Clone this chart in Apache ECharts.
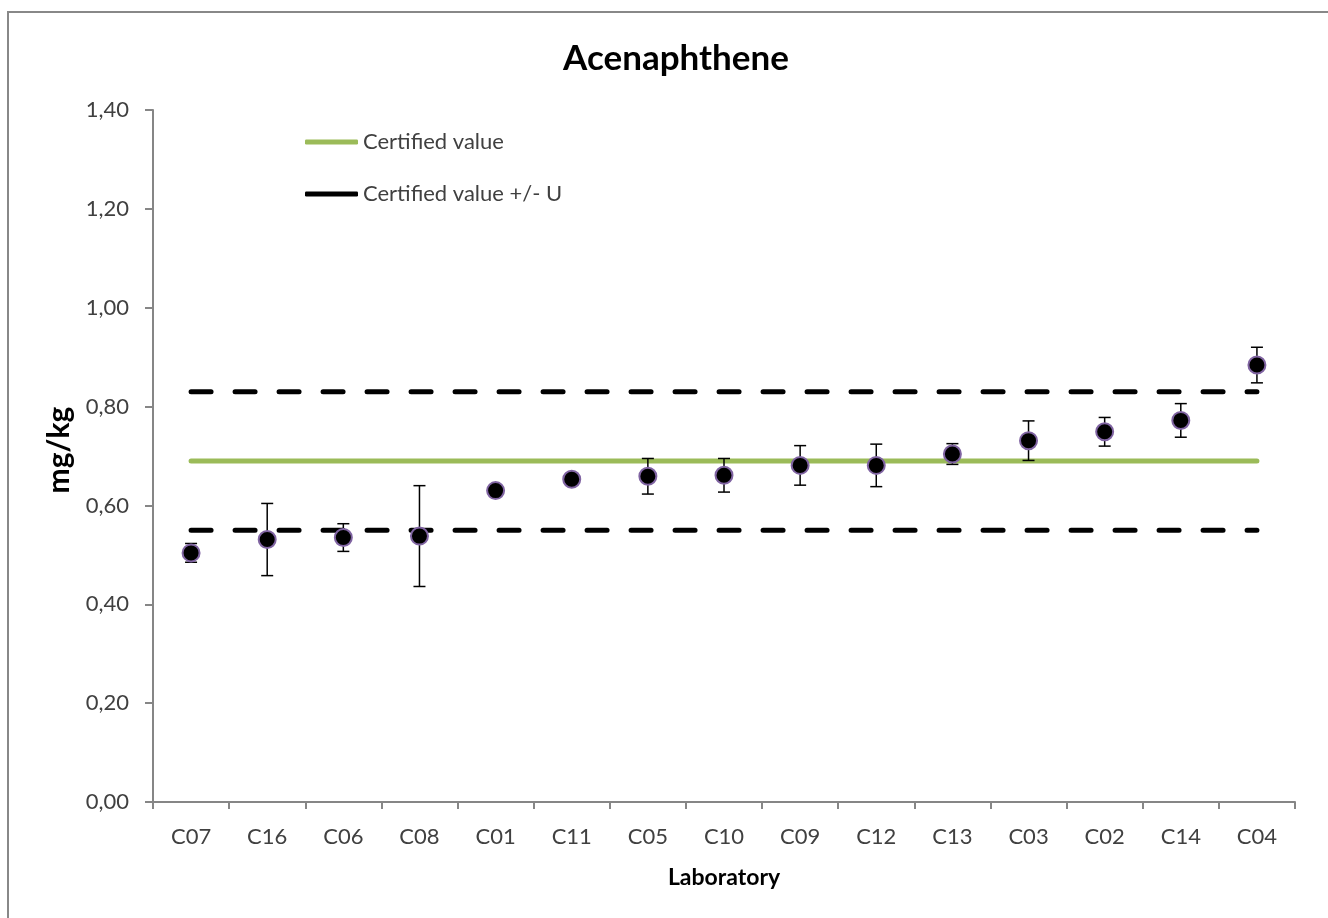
<!DOCTYPE html>
<html>
<head>
<meta charset="utf-8">
<script src="https://cdn.jsdelivr.net/npm/echarts@6/dist/echarts.min.js"></script>
<style>
html,body{margin:0;padding:0;background:#fff;}
#chart{width:1328px;height:918px;}
</style>
</head>
<body>
<div id="chart"></div>
<script>
const TITLE = 'Acenaphthene';
const categories = ['C07','C16','C06','C08','C01','C11','C05','C10','C09','C12','C13','C03','C02','C14','C04'];
const labValues = [0.504, 0.531, 0.535, 0.538, 0.630, 0.653, 0.659, 0.661, 0.681, 0.681, 0.704, 0.731, 0.749, 0.772, 0.884];
const labErrors = [0.019, 0.073, 0.028, 0.102, 0, 0, 0.036, 0.034, 0.040, 0.043, 0.021, 0.040, 0.029, 0.034, 0.036];
const certifiedValue = 0.69;
const certifiedLow = 0.55;
const certifiedHigh = 0.83;

const FONT = 'Lato, "Open Sans", sans-serif';
const TXT = '#404040';
const AX = '#868686';

const chart = echarts.init(document.getElementById('chart'));

const errData = categories.map((c, i) => [i, labValues[i] - labErrors[i], labValues[i] + labErrors[i], labErrors[i]]);
const first = categories[0], last = categories[categories.length - 1];

const option = {
  backgroundColor: '#fff',
  animation: false,
  textStyle: { fontFamily: FONT },
  title: {
    text: TITLE, left: 671, top: 36, textAlign: 'center',
    textStyle: { fontFamily: FONT, fontSize: 35, fontWeight: 'bold', color: '#000' }
  },
  graphic: [{
    type: 'rect', shape: { x: 8, y: 12, width: 1340, height: 930 },
    style: { fill: 'none', stroke: '#888', lineWidth: 2 }, silent: true, z: -10
  }],
  legend: {
    orient: 'vertical', left: 300, top: 126, itemWidth: 53, itemGap: 30, itemHeight: 5,
    icon: 'roundRect',
    textStyle: { fontFamily: FONT, fontSize: 22, color: TXT },
    data: ['Certified value', 'Certified value +/- U']
  },
  grid: { left: 153, right: 33, top: 110, bottom: 116 },
  xAxis: {
    type: 'category', data: categories, boundaryGap: true,
    name: 'Laboratory', nameLocation: 'middle', nameGap: 64,
    nameTextStyle: { fontFamily: FONT, fontSize: 23, fontWeight: 'bold', color: '#000' },
    axisLine: { lineStyle: { color: AX, width: 2 } },
    axisTick: { show: true, length: 7, interval: 0, lineStyle: { color: AX, width: 2 } },
    axisLabel: { interval: 0, margin: 24, fontFamily: FONT, fontSize: 22, color: TXT },
    splitLine: { show: false }
  },
  yAxis: {
    type: 'value', min: 0, max: 1.4, interval: 0.2,
    name: 'mg/kg', nameLocation: 'middle', nameGap: 78, nameRotate: 90,
    nameTextStyle: { fontFamily: FONT, fontSize: 30, fontWeight: 'bold', color: '#000', padding: [0, 0, 0, 12] },
    axisLine: { show: true, lineStyle: { color: AX, width: 2 } },
    axisTick: { show: true, length: 8, lineStyle: { color: AX, width: 2 } },
    axisLabel: { margin: 24, fontFamily: FONT, fontSize: 22, color: TXT,
      formatter: v => v.toFixed(2).replace('.', ',') },
    splitLine: { show: false }
  },
  series: [
    {
      name: 'Certified value', type: 'line', symbol: 'none', z: 2,
      itemStyle: { color: '#9BBB59' },
      lineStyle: { color: '#9BBB59', width: 5, cap: 'round' },
      data: [[first, certifiedValue], [last, certifiedValue]]
    },
    {
      name: 'Certified value +/- U', type: 'line', symbol: 'none', z: 2,
      itemStyle: { color: '#000' },
      lineStyle: { color: '#000', width: 5, type: [20, 24], cap: 'round' },
      data: [[first, certifiedHigh], [last, certifiedHigh]]
    },
    {
      name: 'Certified value +/- U', type: 'line', symbol: 'none', z: 2,
      itemStyle: { color: '#000' },
      lineStyle: { color: '#000', width: 5, type: [20, 24], cap: 'round' },
      data: [[first, certifiedLow], [last, certifiedLow]]
    },
    {
      name: 'err', type: 'custom', z: 3, silent: true,
      data: errData,
      renderItem: function (params, api) {
        if (api.value(3) <= 0) return null;
        const x = api.value(0);
        const lo = api.coord([x, api.value(1)]);
        const hi = api.coord([x, api.value(2)]);
        const w = 6;
        const st = { stroke: '#000', lineWidth: 1.5 };
        return { type: 'group', children: [
          { type: 'line', shape: { x1: lo[0], y1: lo[1], x2: hi[0], y2: hi[1] }, style: st },
          { type: 'line', shape: { x1: lo[0]-w, y1: lo[1], x2: lo[0]+w, y2: lo[1] }, style: st },
          { type: 'line', shape: { x1: hi[0]-w, y1: hi[1], x2: hi[0]+w, y2: hi[1] }, style: st }
        ]};
      }
    },
    {
      name: 'Laboratories', type: 'scatter', z: 4,
      symbol: 'circle', symbolSize: 17,
      itemStyle: { color: '#000', borderColor: '#8064A2', borderWidth: 2, opacity: 1 },
      data: labValues
    }
  ]
};
chart.setOption(option);
</script>
</body>
</html>
